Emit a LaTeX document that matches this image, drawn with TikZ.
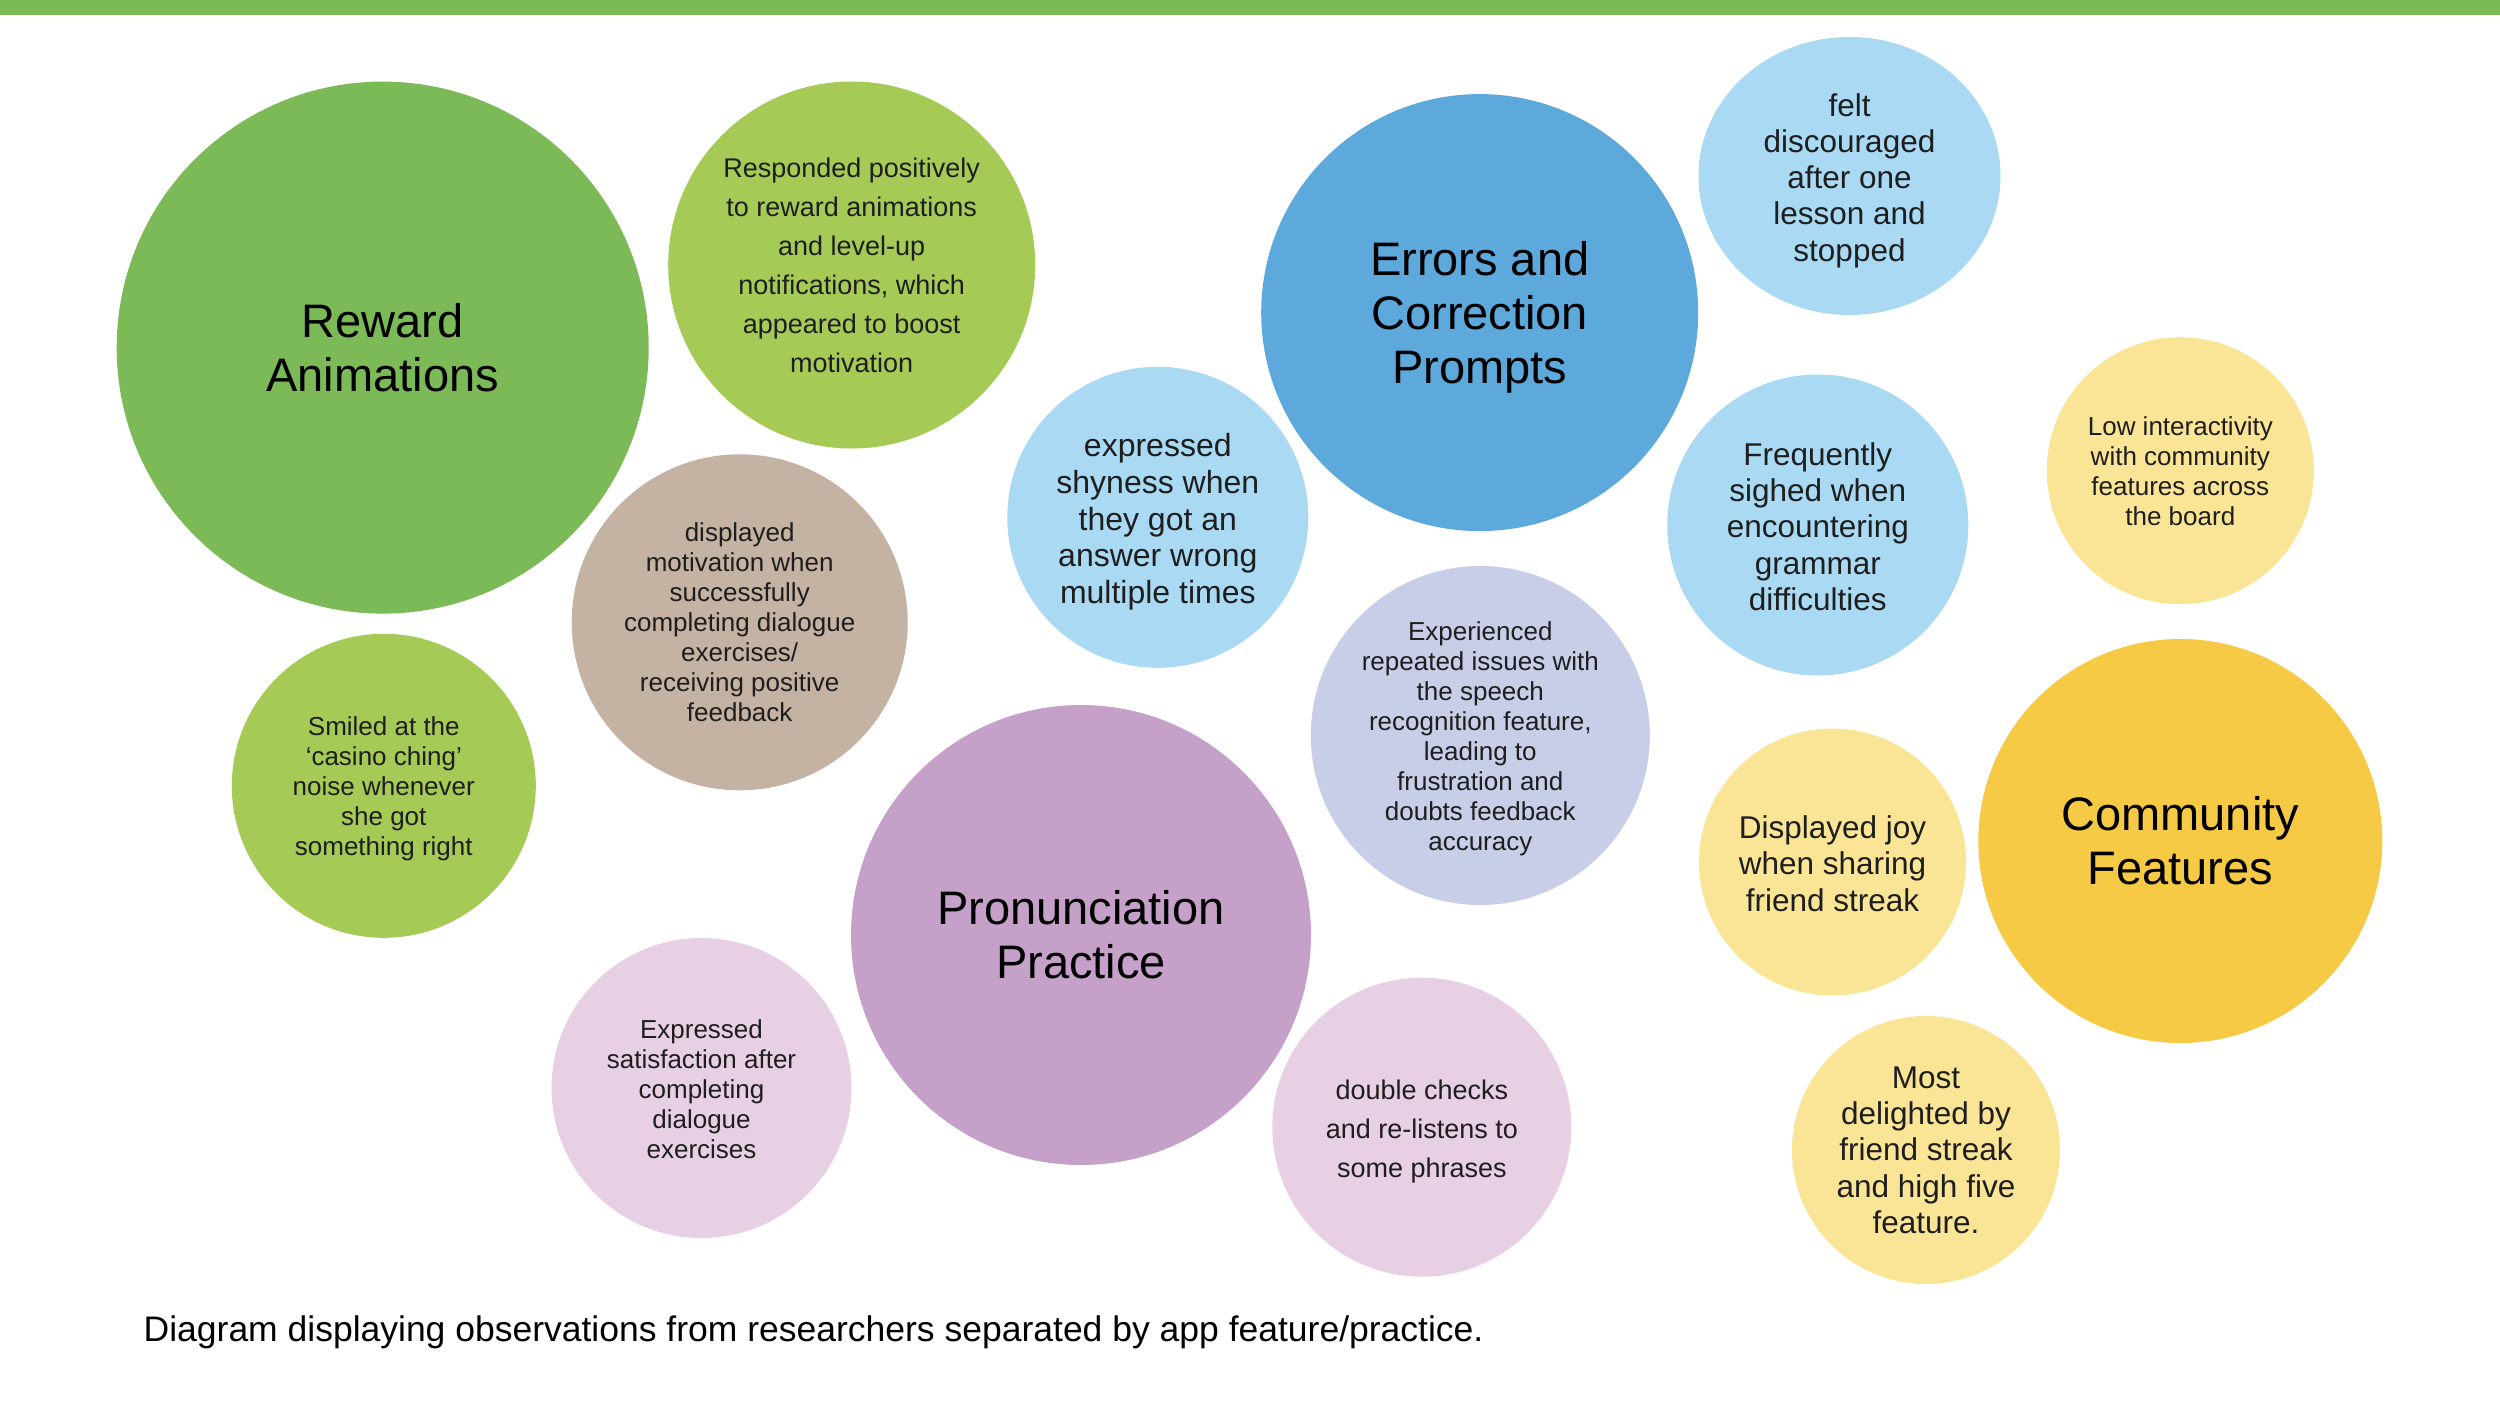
\documentclass[tikz,border=0pt]{standalone}
\usepackage{fontspec}
\setmainfont{Liberation Sans}
\usetikzlibrary{shapes.geometric}
\definecolor{barGreen}{HTML}{7AB954}
\definecolor{cReward}{HTML}{7BBA56}
\definecolor{cLime}{HTML}{A6CA56}
\definecolor{cTan}{HTML}{C4B2A3}
\definecolor{cSky}{HTML}{A9D9F3}
\definecolor{cBlue}{HTML}{5DA9DB}
\definecolor{cLav}{HTML}{C8CEE8}
\definecolor{cPurple}{HTML}{C5A0C8}
\definecolor{cPink}{HTML}{E7D0E4}
\definecolor{cPale}{HTML}{F9E595}
\definecolor{cGold}{HTML}{F6CA45}
\definecolor{txt}{HTML}{1E1E1E}
\newcommand\fsTitle{\fontsize{47}{54}\selectfont}
\newcommand\fsMed{\fontsize{27}{39}\selectfont}
\newcommand\fsSmall{\fontsize{26}{30}\selectfont}
\newcommand\fsMid{\fontsize{31.5}{36.3}\selectfont}
\newcommand\fsShy{\fontsize{32}{36.6}\selectfont}
\newcommand\fsCap{\fontsize{35.5}{42}\selectfont}
\tikzset{
  bub/.style={circle, inner sep=0pt, minimum size=#1},
  btext/.style={inner sep=0pt, align=center, text=txt},
  title/.style={font=\fsTitle, text=black},
}
\begin{document}
\begin{tikzpicture}[x=1pt,y=-1pt]
\useasboundingbox (0,0) rectangle (2500,1406);
\fill[white] (0,0) rectangle (2500,1406);
\fill[barGreen] (0,0) rectangle (2500,15);

% bubbles
\node[bub=532pt, fill=cReward] (reward) at (382.7,347.6) {};
\node[bub=367pt, fill=cLime] (respond) at (851.7,265) {};
\node[bub=336pt, fill=cTan] (dispmot) at (739.7,622.3) {};
\node[bub=304pt, fill=cLime] (smiled) at (383.8,785.8) {};
\node[bub=301pt, fill=cSky] (shy) at (1157.8,517.3) {};
\node[bub=437pt, fill=cBlue] (errors) at (1479.7,312.6) {};
\node[ellipse, inner sep=0pt, minimum width=302pt, minimum height=278pt, fill=cSky] (felt) at (1849.5,176) {};
\node[bub=301pt, fill=cSky] (sighed) at (1817.8,525) {};
\node[bub=267pt, fill=cPale] (lowint) at (2180.3,470.7) {};
\node[bub=339pt, fill=cLav] (speech) at (1480.3,735.5) {};
\node[bub=460pt, fill=cPurple] (pron) at (1081,935) {};
\node[bub=300pt, fill=cPink] (satis) at (701.5,1088) {};
\node[bub=299pt, fill=cPink] (double) at (1421.8,1127.2) {};
\node[bub=267pt, fill=cPale] (joy) at (1832.5,862) {};
\node[bub=404pt, fill=cGold] (comm) at (2180.3,841) {};
\node[bub=268pt, fill=cPale] (delight) at (1926,1150) {};

% texts
\node[btext, title] (reward-t) at (reward) {Reward\\Animations};
\node[btext, font=\fsMed] (respond-t) at (respond) {Responded positively\\to reward animations\\and level-up\\notifications, which\\appeared to boost\\motivation};
\node[btext, font=\fsSmall] (dispmot-t) at (dispmot) {displayed\\motivation when\\successfully\\completing dialogue\\exercises/\\receiving positive\\feedback};
\node[btext, font=\fsSmall] (smiled-t) at ([yshift=-3pt]smiled.center) {Smiled at the\\‘casino ching’\\noise whenever\\she got\\something right};
\node[btext, font=\fsShy] (shy-t) at ([yshift=-4.5pt]shy.center) {expressed\\shyness when\\they got an\\answer wrong\\multiple times};
\node[btext, title] (errors-t) at ([yshift=-4.5pt]errors.center) {Errors and\\Correction\\Prompts};
\node[btext, font=\fsMid] (felt-t) at ([yshift=-4.5pt]felt.center) {felt\\discouraged\\after one\\lesson and\\stopped};
\node[btext, font=\fsMid] (sighed-t) at ([yshift=-1.5pt]sighed.center) {Frequently\\sighed when\\encountering\\grammar\\difficulties};
\node[btext, font=\fsSmall] (lowint-t) at (lowint) {Low interactivity\\with community\\features across\\the board};
\node[btext, font=\fsSmall] (speech-t) at ([yshift=-3pt]speech.center) {Experienced\\repeated issues with\\the speech\\recognition feature,\\leading to\\frustration and\\doubts feedback\\accuracy};
\node[btext, title] (pron-t) at (pron) {Pronunciation\\Practice};
\node[btext, font=\fsSmall] (satis-t) at ([yshift=-1pt]satis.center) {Expressed\\satisfaction after\\completing\\dialogue\\exercises};
\node[btext, font=\fsMed] (double-t) at ([yshift=-4.5pt]double.center) {double checks\\and re-listens to\\some phrases};
\node[btext, font=\fsMid] (joy-t) at ([yshift=-1.5pt]joy.center) {Displayed joy\\when sharing\\friend streak};
\node[btext, title] (comm-t) at (comm) {Community\\Features};
\node[btext, font=\fsMid] (delight-t) at (delight) {Most\\delighted by\\friend streak\\and high five\\feature.};

\node[anchor=base west, inner sep=0pt, font=\fsCap, text=black] (caption) at (143.5,1341) {Diagram displaying observations from researchers separated by app feature/practice.};
\end{tikzpicture}
\end{document}
